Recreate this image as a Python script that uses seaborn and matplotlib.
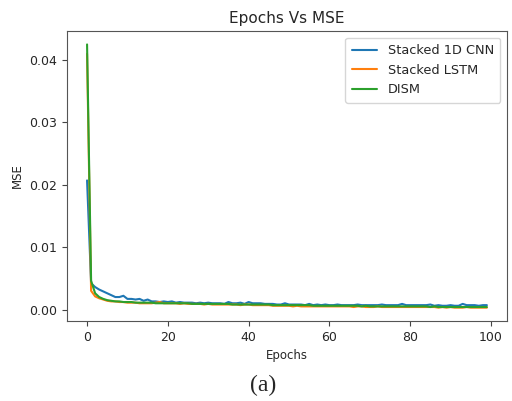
# Epochs vs MSE training curves for the three models

import numpy as np
import pandas as pd
import seaborn as sns
import matplotlib.pyplot as plt

# ----------------------------- DATA --------------------------------------------------------------------

epochs = list(range(100))

cnn_mse = [
    0.0207, 0.0042, 0.0036, 0.0032, 0.0029, 0.0026, 0.0023, 0.0020, 0.0020, 0.0022,
    0.0017, 0.0017, 0.0016, 0.0017, 0.0014, 0.0016, 0.0013, 0.0013, 0.0012, 0.0013,
    0.0012, 0.0013, 0.0011, 0.0012, 0.0011, 0.0011, 0.0011, 0.0010, 0.0011, 0.0010,
    0.0011, 0.0010, 0.0010, 0.0010, 0.0009, 0.0012, 0.0010, 0.0010, 0.0011, 0.0009,
    0.0012, 0.0010, 0.0010, 0.0010, 0.0009, 0.0009, 0.0009, 0.0008, 0.0008, 0.0010,
    0.0008, 0.0008, 0.0008, 0.0008, 0.0007, 0.0009, 0.0007, 0.0008, 0.0007, 0.0008,
    0.0007, 0.0007, 0.0008, 0.0007, 0.0007, 0.0007, 0.0007, 0.0008, 0.0007, 0.0007,
    0.0007, 0.0007, 0.0007, 0.0008, 0.0007, 0.0007, 0.0007, 0.0007, 0.0009, 0.0007,
    0.0007, 0.0007, 0.0007, 0.0007, 0.0007, 0.0008, 0.0006, 0.0007, 0.0006, 0.0006,
    0.0007, 0.0006, 0.0006, 0.0009, 0.0007, 0.0007, 0.0007, 0.0006, 0.0007, 0.0007,
]

lstm_mse = [
    0.0410, 0.0030, 0.0021, 0.0018, 0.0016, 0.0014, 0.0013, 0.0013, 0.0012, 0.0012,
    0.0011, 0.0011, 0.0011, 0.0010, 0.0010, 0.0010, 0.0010, 0.0011, 0.0012, 0.0010,
    0.0010, 0.0010, 0.0010, 0.0009, 0.0010, 0.0009, 0.0009, 0.0009, 0.0009, 0.0008,
    0.0009, 0.0008, 0.0008, 0.0008, 0.0008, 0.0008, 0.0008, 0.0008, 0.0007, 0.0008,
    0.0008, 0.0007, 0.0007, 0.0007, 0.0007, 0.0007, 0.0006, 0.0006, 0.0006, 0.0006,
    0.0006, 0.0005, 0.0006, 0.0005, 0.0005, 0.0005, 0.0005, 0.0005, 0.0005, 0.0005,
    0.0005, 0.0005, 0.0005, 0.0005, 0.0005, 0.0005, 0.0004, 0.0005, 0.0005, 0.0004,
    0.0004, 0.0004, 0.0005, 0.0004, 0.0004, 0.0004, 0.0004, 0.0004, 0.0004, 0.0004,
    0.0004, 0.0004, 0.0004, 0.0004, 0.0004, 0.0004, 0.0004, 0.0003, 0.0004, 0.0003,
    0.0004, 0.0003, 0.0003, 0.0003, 0.0004, 0.0003, 0.0003, 0.0003, 0.0003, 0.0003,
]

dism_mse = [
    0.0425, 0.0046, 0.0026, 0.0020, 0.0017, 0.0015, 0.0014, 0.0013, 0.0013, 0.0012,
    0.0012, 0.0012, 0.0011, 0.0011, 0.0011, 0.0011, 0.0011, 0.0010, 0.0010, 0.0010,
    0.0010, 0.0010, 0.0010, 0.0010, 0.0010, 0.0010, 0.0009, 0.0009, 0.0009, 0.0009,
    0.0009, 0.0009, 0.0009, 0.0009, 0.0009, 0.0009, 0.0008, 0.0008, 0.0008, 0.0008,
    0.0008, 0.0008, 0.0008, 0.0008, 0.0008, 0.0008, 0.0007, 0.0007, 0.0007, 0.0007,
    0.0007, 0.0007, 0.0007, 0.0007, 0.0007, 0.0007, 0.0006, 0.0006, 0.0006, 0.0006,
    0.0006, 0.0006, 0.0006, 0.0006, 0.0006, 0.0006, 0.0006, 0.0006, 0.0005, 0.0006,
    0.0005, 0.0005, 0.0005, 0.0005, 0.0005, 0.0005, 0.0005, 0.0005, 0.0005, 0.0005,
    0.0005, 0.0005, 0.0005, 0.0005, 0.0005, 0.0004, 0.0005, 0.0004, 0.0004, 0.0004,
    0.0004, 0.0004, 0.0004, 0.0004, 0.0004, 0.0004, 0.0004, 0.0004, 0.0004, 0.0004,
]

model_names = ["Stacked 1D CNN", "Stacked LSTM", "DISM"]

# ----------------------------- PLOT --------------------------------------------------------------------

sns.set_style("ticks")
plt.rcParams["font.family"] = ["DejaVu Sans"]

df = pd.DataFrame({
    "Epochs": epochs * 3,
    "MSE": cnn_mse + lstm_mse + dism_mse,
    "Model": np.repeat(model_names, len(epochs)),
})

fig = plt.figure(figsize=(5.12, 4.01), dpi=100)
ax = fig.add_axes([0.131, 0.2, 0.859, 0.722])

sns.lineplot(
    data=df, x="Epochs", y="MSE", hue="Model", hue_order=model_names,
    palette=["#1f77b4", "#ff7f0e", "#2ca02c"], linewidth=1.5, ax=ax,
)

ax.set_title("Epochs Vs MSE", fontsize=11)
ax.set_xlabel("Epochs", fontsize=8.5)
ax.set_ylabel("MSE", fontsize=8.5)
ax.tick_params(labelsize=9, color="#444444")
for s in ax.spines.values():
    s.set_color("#555555")
ax.set_xticks([0, 20, 40, 60, 80, 100])
ax.set_yticks([0.0, 0.01, 0.02, 0.03, 0.04])
ax.set_yticklabels(["0.00", "0.01", "0.02", "0.03", "0.04"])

leg = ax.legend(loc="upper right", fontsize=9.3, frameon=True, borderpad=0.5)
leg.set_title(None)

fig.text(0.513, 0.038, "(a)", ha="center", va="center",
         fontsize=17, family="Liberation Serif")

plt.savefig("out.png", dpi=100)
plt.close()
